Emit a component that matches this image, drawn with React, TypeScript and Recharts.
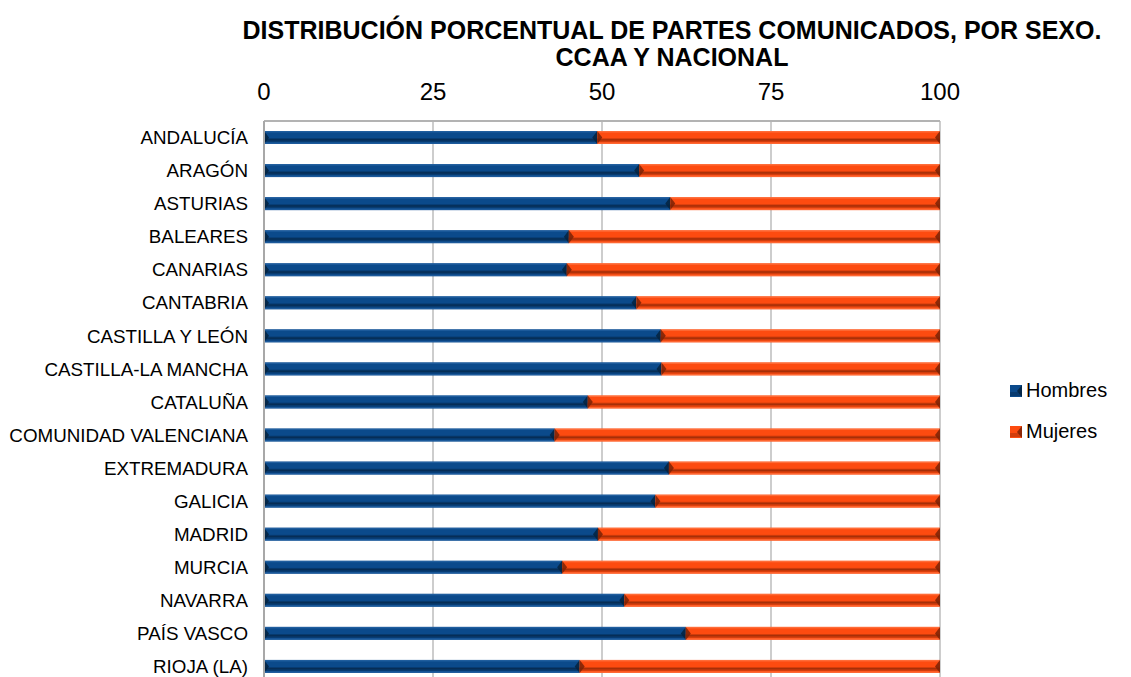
import React from 'react';
import { BarChart, Bar, XAxis, YAxis, CartesianGrid } from 'recharts';

const categories = ['ANDALUCÍA', 'ARAGÓN', 'ASTURIAS', 'BALEARES', 'CANARIAS', 'CANTABRIA', 'CASTILLA Y LEÓN', 'CASTILLA-LA MANCHA', 'CATALUÑA', 'COMUNIDAD VALENCIANA', 'EXTREMADURA', 'GALICIA', 'MADRID', 'MURCIA', 'NAVARRA', 'PAÍS VASCO', 'RIOJA (LA)'];
const hombres = [49.3, 55.5, 60.1, 45.1, 44.8, 55.1, 58.7, 58.8, 47.9, 43.0, 59.9, 57.9, 49.4, 44.1, 53.3, 62.4, 46.7];
const mujeres = [50.7, 44.5, 39.9, 54.9, 55.2, 44.9, 41.3, 41.2, 52.1, 57.0, 40.1, 42.1, 50.6, 55.9, 46.7, 37.6, 53.3];
const xTicks = [0, 25, 50, 75, 100];

const seriesNames = ['Hombres', 'Mujeres'];
const palette = {
  Hombres: { base: '#0b4a8b', light: '#2a66a6', dark: '#083b70', line: '#062a50', end: '#05233f' },
  Mujeres: { base: '#fd4b10', light: '#ff7a4a', dark: '#d23d0c', line: '#9b2c08', end: '#7a2206' },
};

const data = categories.map((c, i) => ({ name: c, Hombres: hombres[i], Mujeres: mujeres[i] }));

const FONT = 'Arial, "Liberation Sans", sans-serif';

const makeShape = (key: 'Hombres' | 'Mujeres') => (props: any) => {
  const { x, y, width, height } = props;
  if (!width || width <= 0) return null;
  const c = palette[key];
  const b = Math.min(5, width / 2);
  const h = height;
  return (
    <g>
      <rect x={x} y={y} width={width} height={h} fill={c.base} />
      <rect x={x} y={y} width={width} height={1.5} fill={c.light} opacity={0.7} />
      <rect x={x} y={y + h * 0.55} width={width} height={h * 0.3} fill={c.dark} />
      <rect x={x} y={y + h * 0.62} width={width} height={1.5} fill={c.line} opacity={0.8} />
      <rect x={x} y={y + h - 1.5} width={width} height={1.5} fill={c.light} opacity={0.6} />
      <polygon points={`${x},${y} ${x + b},${y + h / 2} ${x},${y + h}`} fill={c.end} opacity={0.85} />
      <polygon points={`${x + width},${y} ${x + width - b},${y + h / 2} ${x + width},${y + h}`} fill={c.end} opacity={0.85} />
    </g>
  );
};

const LegendBox = () => (
  <div style={{ position: 'absolute', left: 1010, top: 370, fontFamily: FONT, fontSize: 20, color: '#000' }}>
    {seriesNames.map((n) => {
      const c = palette[n as 'Hombres' | 'Mujeres'];
      return (
        <div key={n} style={{ display: 'flex', alignItems: 'center', height: 41 }}>
          <svg width={12} height={12} style={{ marginRight: 4 }}>
            <rect x={0} y={0} width={12} height={12} fill={c.base} />
            <rect x={0} y={7} width={12} height={4} fill={c.dark} />
            <polygon points="12,0 7,6 12,12" fill={c.end} opacity={0.85} />
          </svg>
          <span>{n}</span>
        </div>
      );
    })}
  </div>
);

export default function App() {
  return (
    <div style={{ position: 'absolute', left: 0, top: 0, width: 1131, height: 677, overflow: 'hidden', background: '#fff' }}>
      <div
        style={{
          position: 'absolute',
          top: 17,
          left: 232,
          width: 880,
          textAlign: 'center',
          fontFamily: FONT,
          fontWeight: 'bold',
          fontSize: 25,
          lineHeight: '27px',
          color: '#000',
          whiteSpace: 'nowrap',
        }}
      >
        DISTRIBUCIÓN PORCENTUAL DE PARTES COMUNICADOS, POR SEXO.
        <br />
        CCAA Y NACIONAL
      </div>
      <BarChart
        width={1131}
        height={700}
        data={data}
        layout="vertical"
        margin={{ top: 91, right: 191, bottom: 17, left: 0 }}
        barCategoryGap={0}
        style={{ position: 'absolute', top: 0, left: 0 }}
      >
        <CartesianGrid horizontal={false} vertical={true} stroke="#bdbdbd" strokeWidth={1.5} />
        <XAxis
          type="number"
          orientation="top"
          domain={[0, 100]}
          ticks={xTicks}
          height={30}
          tickLine={false}
          tickSize={0}
          tickMargin={21}
          axisLine={{ stroke: '#b3b3b3', strokeWidth: 2 }}
          tick={{ fontSize: 24, fill: '#000', fontFamily: FONT }}
          interval={0}
        />
        <YAxis
          type="category"
          dataKey="name"
          width={264}
          tickLine={false}
          tickSize={0}
          tickMargin={16}
          axisLine={{ stroke: '#a8a8a8', strokeWidth: 2 }}
          tick={{ fontSize: 18.8, fill: '#000', fontFamily: FONT }}
          interval={0}
        />
        <Bar dataKey="Hombres" stackId="a" barSize={13} fill={palette.Hombres.base} shape={makeShape('Hombres')} isAnimationActive={false} />
        <Bar dataKey="Mujeres" stackId="a" barSize={13} fill={palette.Mujeres.base} shape={makeShape('Mujeres')} isAnimationActive={false} />
      </BarChart>
      <LegendBox />
    </div>
  );
}
